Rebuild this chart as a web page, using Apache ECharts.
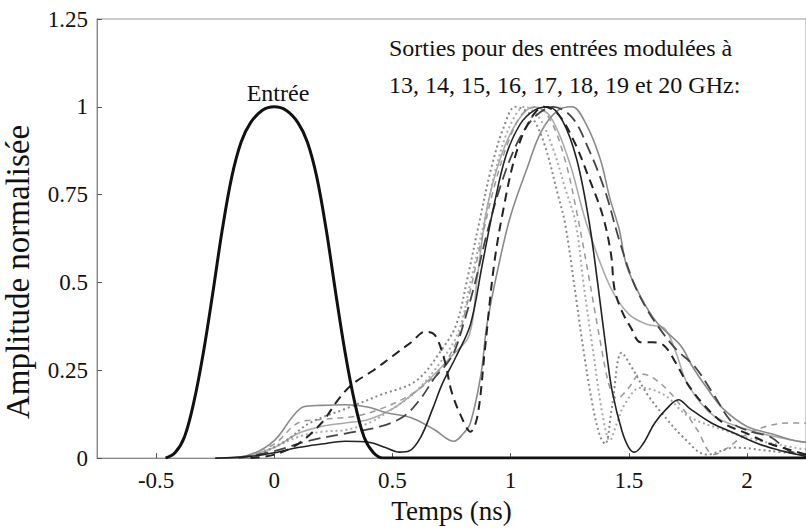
<!DOCTYPE html>
<html>
<head>
<meta charset="utf-8">
<script src="https://cdn.jsdelivr.net/npm/echarts@6/dist/echarts.min.js"></script>
<style>
html,body{margin:0;padding:0;background:#fff;}
#chart{width:806px;height:529px;}
</style>
</head>
<body>
<div id="chart"></div>
<script>
// ---- data (time in ns, normalized amplitude) ----
const xTicks = [-0.5, 0, 0.5, 1, 1.5, 2];
const yTicks = [0, 0.25, 0.5, 0.75, 1, 1.25];

const entree = [[-0.46,0],[-0.42,0.015],[-0.38,0.06],[-0.34,0.16],[-0.3,0.3],[-0.26,0.47],[-0.22,0.65],[-0.18,0.8],[-0.14,0.9],[-0.1,0.955],[-0.05,0.99],[0,1],[0.05,0.99],[0.1,0.955],[0.14,0.9],[0.18,0.8],[0.22,0.65],[0.26,0.47],[0.3,0.3],[0.34,0.16],[0.38,0.06],[0.42,0.015],[0.46,0],[0.55,0],[2.25,0]];

const sortieA = [[-0.25,0],[-0.1,0.005],[0,0.015],[0.1,0.03],[0.2,0.04],[0.3,0.048],[0.4,0.045],[0.47,0.03],[0.53,0.017],[0.57,0.02],[0.62,0.06],[0.67,0.14],[0.71,0.21],[0.77,0.29],[0.83,0.38],[0.88,0.55],[0.93,0.72],[0.98,0.86],[1.04,0.95],[1.1,0.99],[1.16,1.0],[1.22,0.96],[1.28,0.85],[1.333,0.67],[1.37,0.49],[1.41,0.28],[1.43,0.19],[1.47,0.08],[1.5,0.03],[1.525,0.017],[1.56,0.04],[1.61,0.1],[1.66,0.14],[1.71,0.166],[1.76,0.14],[1.85,0.1],[1.95,0.07],[2.05,0.04],[2.15,0.02],[2.25,0.005]];

const sortieB = [[-0.1,0],[0,0.01],[0.1,0.04],[0.2,0.1],[0.27,0.166],[0.33,0.21],[0.42,0.25],[0.5,0.29],[0.58,0.33],[0.64,0.36],[0.68,0.35],[0.72,0.28],[0.75,0.19],[0.79,0.12],[0.83,0.075],[0.86,0.12],[0.89,0.3],[0.93,0.55],[0.97,0.71],[1.02,0.86],[1.08,0.96],[1.14,1.0],[1.2,0.98],[1.27,0.9],[1.33,0.8],[1.39,0.69],[1.425,0.58],[1.44,0.48],[1.47,0.42],[1.51,0.37],[1.55,0.33],[1.6,0.33],[1.65,0.32],[1.7,0.27],[1.75,0.21],[1.82,0.15],[1.9,0.1],[2.0,0.07],[2.1,0.04],[2.2,0.02],[2.25,0.01]];

const sortieC = [[-0.15,0],[0,0.02],[0.15,0.05],[0.3,0.07],[0.45,0.09],[0.55,0.12],[0.62,0.17],[0.68,0.23],[0.72,0.26],[0.76,0.3],[0.8,0.38],[0.85,0.5],[0.9,0.64],[0.96,0.78],[1.03,0.9],[1.1,0.97],[1.18,1.0],[1.26,0.97],[1.33,0.88],[1.4,0.76],[1.46,0.62],[1.52,0.5],[1.58,0.42],[1.64,0.36],[1.7,0.31],[1.78,0.26],[1.86,0.18],[1.94,0.1],[2.02,0.075],[2.1,0.06],[2.18,0.02],[2.25,0.01]];

const sortieD = [[-0.2,0],[-0.1,0.01],[0,0.05],[0.08,0.12],[0.125,0.146],[0.2,0.15],[0.3,0.152],[0.4,0.145],[0.47,0.13],[0.58,0.115],[0.68,0.08],[0.76,0.048],[0.8,0.07],[0.83,0.1],[0.875,0.24],[0.9,0.38],[0.95,0.55],[1.0,0.69],[1.067,0.82],[1.13,0.93],[1.2,0.99],[1.26,1.0],[1.32,0.95],[1.38,0.85],[1.42,0.74],[1.46,0.65],[1.49,0.55],[1.55,0.46],[1.62,0.385],[1.72,0.32],[1.77,0.26],[1.83,0.2],[1.9,0.14],[2.0,0.09],[2.1,0.07],[2.2,0.05],[2.25,0.045]];

const sortieE = [[-0.15,0],[0,0.03],[0.1,0.07],[0.2,0.09],[0.3,0.1],[0.4,0.11],[0.5,0.14],[0.6,0.19],[0.68,0.24],[0.75,0.29],[0.825,0.35],[0.86,0.52],[0.9,0.71],[0.96,0.86],[1.03,0.96],[1.1,1.0],[1.17,0.97],[1.25,0.84],[1.32,0.67],[1.42,0.49],[1.5,0.41],[1.58,0.38],[1.65,0.37],[1.7,0.3],[1.75,0.21],[1.86,0.12],[2.03,0.076],[2.2,0.05],[2.25,0.045]];

const sortieF = [[-0.15,0],[0,0.04],[0.1,0.1],[0.2,0.11],[0.35,0.12],[0.45,0.14],[0.55,0.17],[0.62,0.2],[0.7,0.25],[0.77,0.33],[0.82,0.45],[0.87,0.6],[0.93,0.77],[0.99,0.9],[1.05,0.98],[1.11,1.0],[1.17,0.96],[1.23,0.85],[1.28,0.7],[1.33,0.52],[1.38,0.33],[1.42,0.2],[1.45,0.17],[1.5,0.2],[1.55,0.24],[1.6,0.23],[1.67,0.19],[1.73,0.14],[1.79,0.08],[1.86,0.01],[1.92,0.03],[1.98,0.06],[2.08,0.09],[2.18,0.1],[2.25,0.1]];

const sortieG = [[-0.1,0],[0.05,0.05],[0.15,0.1],[0.3,0.14],[0.45,0.18],[0.6,0.22],[0.71,0.31],[0.77,0.38],[0.82,0.52],[0.867,0.67],[0.92,0.83],[0.97,0.94],[1.02,1.0],[1.08,0.98],[1.14,0.9],[1.2,0.75],[1.23,0.67],[1.27,0.49],[1.31,0.3],[1.35,0.14],[1.38,0.06],[1.4,0.04],[1.43,0.15],[1.47,0.3],[1.52,0.25],[1.58,0.18],[1.65,0.12],[1.73,0.06],[1.83,0.01],[1.95,0.03],[2.1,0.02],[2.25,0.01]];

const sortieH = [[-0.1,0],[0,0.03],[0.1,0.06],[0.2,0.075],[0.3,0.08],[0.4,0.1],[0.5,0.14],[0.6,0.19],[0.7,0.27],[0.78,0.36],[0.83,0.5],[0.887,0.67],[0.94,0.83],[1.0,0.95],[1.06,1.0],[1.12,0.97],[1.18,0.88],[1.23,0.77],[1.275,0.67],[1.31,0.49],[1.35,0.3],[1.39,0.12],[1.42,0.05],[1.45,0.1],[1.48,0.15],[1.55,0.2],[1.65,0.18],[1.75,0.12],[1.9,0.08],[2.05,0.05],[2.2,0.03],[2.25,0.025]];

const labelEntree = 'Entrée';
const labelSorties1 = 'Sorties pour des entrées modulées à';
const labelSorties2 = '13, 14, 15, 16, 17, 18, 19 et 20 GHz:';

// ---- chart ----
const FONT = 'Liberation Serif';
const chart = echarts.init(document.getElementById('chart'), null, {renderer: 'svg'});

function mk(name, data, color, width, type) {
  return {
    name: name, type: 'line', data: data, smooth: 0.35, showSymbol: false,
    lineStyle: {color: color, width: width, type: type},
    z: 2, silent: true
  };
}

chart.setOption({
  animation: false,
  backgroundColor: '#fff',
  textStyle: {fontFamily: FONT, color: '#111'},
  grid: {left: 97, top: 19, width: 720, height: 445, show: true, borderColor: '#999', borderWidth: 1, backgroundColor: 'transparent'},
  xAxis: {
    type: 'value', min: -0.75, max: 2.25,
    name: 'Temps (ns)', nameLocation: 'middle', nameGap: 31,
    nameTextStyle: {fontFamily: FONT, fontSize: 27, color: '#111'},
    axisLine: {show: true, onZero: false, lineStyle: {color: '#888', width: 1}},
    axisTick: {show: true, inside: true, length: 5, customValues: xTicks, lineStyle: {color: '#555'}},
    axisLabel: {customValues: xTicks, margin: 11, fontFamily: FONT, fontSize: 23, color: '#111'},
    splitLine: {show: false}
  },
  yAxis: {
    type: 'value', min: 0, max: 1.25, interval: 0.25,
    axisLine: {show: true, onZero: false, lineStyle: {color: '#888', width: 1}},
    axisTick: {show: true, inside: true, length: 5, customValues: yTicks, lineStyle: {color: '#555'}},
    axisLabel: {customValues: yTicks, margin: 9, fontFamily: FONT, fontSize: 23, color: '#111'},
    splitLine: {show: false}
  },
  series: [
    mk('13 GHz', sortieE, '#aaaaaa', 1.6, 'solid'),
    mk('14 GHz', sortieD, '#8a8a8a', 1.6, 'solid'),
    mk('15 GHz', sortieF, '#999999', 1.5, [6, 5]),
    mk('16 GHz', sortieH, '#aaaaaa', 2, [2, 3]),
    mk('17 GHz', sortieG, '#888888', 2, [2, 3]),
    mk('18 GHz', sortieC, '#444444', 1.8, [12, 6]),
    mk('19 GHz', sortieB, '#222222', 2, [9, 6]),
    mk('20 GHz', sortieA, '#222222', 1.6, 'solid'),
    Object.assign(mk('Entrée', entree, '#111111', 3, 'solid'), {z: 3})
  ],
  graphic: [
    {type: 'text', x: 18, y: 272, rotation: Math.PI / 2, style: {text: 'Amplitude normalisée', fontFamily: FONT, fontSize: 33, fill: '#111', align: 'center', verticalAlign: 'middle'}},
    {type: 'text', x: 278, y: 93, style: {text: labelEntree, fontFamily: FONT, fontSize: 24, fill: '#111', align: 'center', verticalAlign: 'middle'}},
    {type: 'text', x: 389, y: 48, style: {text: labelSorties1, fontFamily: FONT, fontSize: 24, fill: '#111', align: 'left', verticalAlign: 'middle'}},
    {type: 'text', x: 389, y: 85, style: {text: labelSorties2, fontFamily: FONT, fontSize: 24, fill: '#111', align: 'left', verticalAlign: 'middle'}}
  ]
});
</script>
</body>
</html>
